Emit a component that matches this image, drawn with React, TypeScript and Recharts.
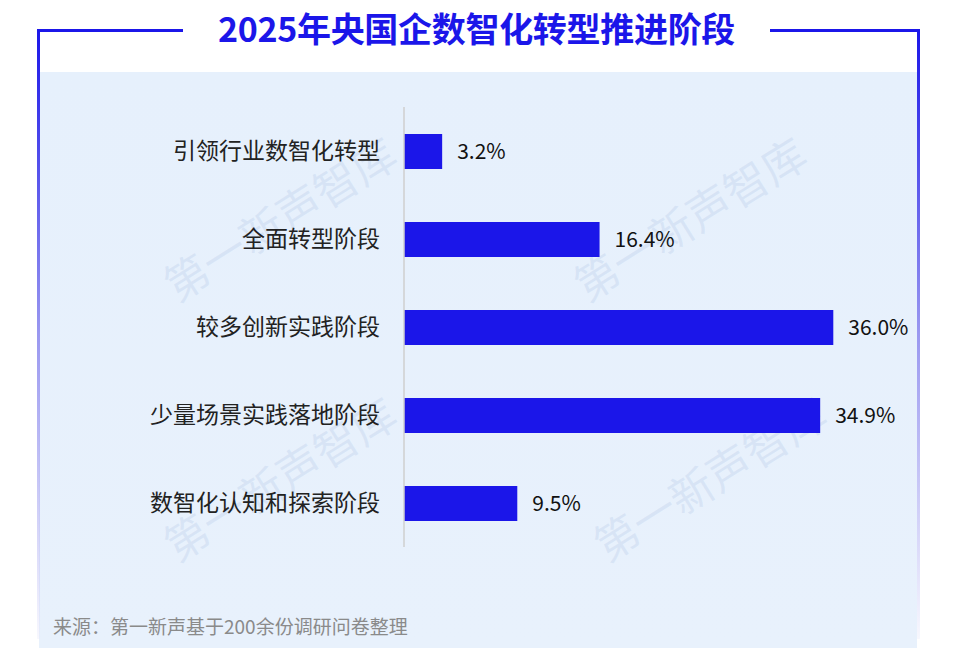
import React from 'react';
import { BarChart, Bar, XAxis, YAxis, LabelList } from 'recharts';

// 推进阶段 categories and share (%)
const stages = [
  '引领行业数智化转型',
  '全面转型阶段',
  '较多创新实践阶段',
  '少量场景实践落地阶段',
  '数智化认知和探索阶段',
];
const shares = [3.2, 16.4, 36.0, 34.9, 9.5];

const chartData = stages.map((stage, i) => ({ stage, share: shares[i] }));

const BLUE = '#1b16e9';
const FONT = '"Noto Sans CJK SC", "Noto Sans", sans-serif';

// faint watermark positions on the panel
const watermarks = [
  { x: 150, y: 260 },
  { x: 560, y: 260 },
  { x: 150, y: 520 },
  { x: 580, y: 520 },
];

export default function App() {
  return (
    <div
      style={{
        position: 'absolute',
        left: 0,
        top: 0,
        width: 959,
        height: 654,
        background: '#fff',
        fontFamily: FONT,
        overflow: 'hidden',
      }}
    >
      {/* light blue panel */}
      <div
        style={{
          position: 'absolute',
          left: 39,
          top: 72,
          width: 878,
          height: 576,
          background: 'linear-gradient(180deg, #e6f0fc 0%, #e8f1fc 100%)',
        }}
      />
      {/* frame lines */}
      <div style={{ position: 'absolute', left: 37, top: 29, width: 146, height: 3, background: BLUE }} />
      <div style={{ position: 'absolute', left: 770, top: 29, width: 150, height: 3, background: BLUE }} />
      <div
        style={{
          position: 'absolute',
          left: 37,
          top: 29,
          width: 3,
          height: 610,
          background: 'linear-gradient(180deg, #1b16e9 0%, #9a98f0 50%, rgba(230,230,250,0.3) 100%)',
        }}
      />
      <div
        style={{
          position: 'absolute',
          left: 917,
          top: 29,
          width: 3,
          height: 610,
          background: 'linear-gradient(180deg, #1b16e9 0%, #9a98f0 50%, rgba(230,230,250,0.3) 100%)',
        }}
      />
      {/* title */}
      <div
        style={{
          position: 'absolute',
          left: 183,
          width: 587,
          top: 5,
          textAlign: 'center',
          fontSize: 34,
          fontWeight: 700,
          color: BLUE,
          lineHeight: '46px',
          letterSpacing: -0.3,
        }}
      >
        2025年央国企数智化转型推进阶段
      </div>
      {/* watermarks */}
      {watermarks.map((w, i) => (
        <div
          key={i}
          style={{
            position: 'absolute',
            left: w.x,
            top: w.y,
            fontSize: 44,
            color: 'rgba(160,185,220,0.22)',
            transform: 'rotate(-32deg)',
            transformOrigin: 'left top',
            whiteSpace: 'nowrap',
          }}
        >
          第一新声智库
        </div>
      ))}
      <div style={{ position: 'absolute', left: 0, top: 0 }}>
        <BarChart
          width={959}
          height={654}
          data={chartData}
          layout="vertical"
          margin={{ top: 107, right: 78, bottom: 107, left: 0 }}
          barCategoryGap={0}
        >
          <XAxis type="number" domain={[0, 40]} hide />
          <YAxis
            type="category"
            dataKey="stage"
            width={404}
            tickLine={false}
            tickSize={0}
            tickMargin={24}
            axisLine={{ stroke: '#cfcfcf', strokeWidth: 1.5 }}
            tick={{ fill: '#222', fontSize: 23, fontFamily: FONT }}
          />
          <Bar dataKey="share" fill={BLUE} barSize={35} isAnimationActive={false}>
            <LabelList
              dataKey="share"
              position="right"
              offset={15}
              formatter={(v: number) => `${v.toFixed(1)}%`}
              style={{ fill: '#111', fontSize: 21, fontFamily: FONT }}
            />
          </Bar>
        </BarChart>
      </div>
      {/* source note */}
      <div
        style={{
          position: 'absolute',
          left: 53,
          top: 612,
          fontSize: 19,
          color: '#8a8a8a',
        }}
      >
        来源：第一新声基于200余份调研问卷整理
      </div>
    </div>
  );
}
